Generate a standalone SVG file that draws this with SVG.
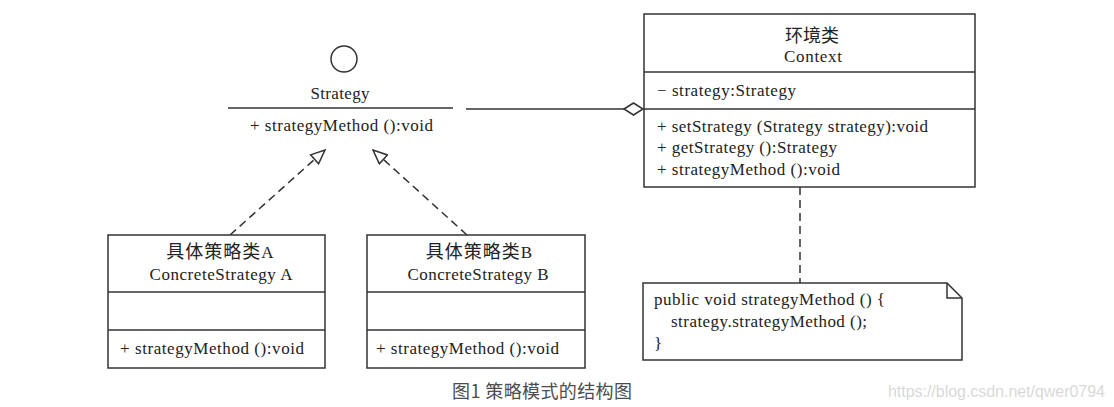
<svg xmlns="http://www.w3.org/2000/svg" width="1114" height="407" viewBox="0 0 1114 407">
<defs>
<style>
.t{font-family:"Liberation Serif","Noto Sans CJK SC",serif;font-size:17px;fill:#222}
.k{font-size:18px;letter-spacing:1px}
.c{text-anchor:middle}
.b{fill:#fff;stroke:#333;stroke-width:1.5}
.l{stroke:#333;stroke-width:1.5;fill:none}
.d{stroke:#333;stroke-width:1.5;fill:none;stroke-dasharray:8 5}
</style>
<marker id="tri" viewBox="0 0 16 14" refX="15" refY="7" markerWidth="16" markerHeight="14" markerUnits="userSpaceOnUse" orient="auto">
<path d="M1,1 L15,7 L1,13 Z" fill="#fff" stroke="#333" stroke-width="1.5"/>
</marker>
</defs>
<rect width="1114" height="407" fill="#fff"/>
<g id="connectors">
<line class="d" x1="230" y1="235" x2="325" y2="150" marker-end="url(#tri)"/>
<line class="d" x1="467" y1="235" x2="373" y2="150" marker-end="url(#tri)"/>
<line class="l" x1="466" y1="109" x2="624" y2="109"/>
<path d="M624,109 L633.5,103 L643,109 L633.5,115 Z" fill="#fff" stroke="#333" stroke-width="1.5"/>
<line class="d" x1="800" y1="187" x2="800" y2="283"/>
</g>
<g id="strategy">
<circle cx="344" cy="59" r="13" class="b"/>
<text class="t c" x="340" y="99" textLength="59">Strategy</text>
<line class="l" x1="228" y1="108" x2="453" y2="108"/>
<text class="t" x="250" y="131" textLength="183">+ strategyMethod ():void</text>
</g>
<g id="context">
<rect class="b" x="644" y="14" width="331" height="173"/>
<line class="l" x1="644" y1="72" x2="975" y2="72"/>
<line class="l" x1="644" y1="109" x2="975" y2="109"/>
<text class="t c" x="812" y="42" style="font-size:18px">环境类</text>
<text class="t c" x="813" y="62" textLength="58">Context</text>
<text class="t" x="657" y="96" textLength="139">− strategy:Strategy</text>
<text class="t" x="657" y="132" textLength="271">+ setStrategy (Strategy strategy):void</text>
<text class="t" x="657" y="153" textLength="180">+ getStrategy ():Strategy</text>
<text class="t" x="657" y="175" textLength="183">+ strategyMethod ():void</text>
</g>
<g id="concreteA">
<rect class="b" x="108" y="235" width="217" height="133"/>
<line class="l" x1="108" y1="292" x2="325" y2="292"/>
<line class="l" x1="108" y1="330" x2="325" y2="330"/>
<text class="t c" x="220" y="258"><tspan class="k">具体策略类</tspan>A</text>
<text class="t c" x="221" y="280" textLength="143">ConcreteStrategy  A</text>
<text class="t" x="120" y="354" textLength="184">+ strategyMethod ():void</text>
</g>
<g id="concreteB">
<rect class="b" x="367" y="235" width="218" height="133"/>
<line class="l" x1="367" y1="292" x2="585" y2="292"/>
<line class="l" x1="367" y1="330" x2="585" y2="330"/>
<text class="t c" x="479" y="258"><tspan class="k">具体策略类</tspan>B</text>
<text class="t c" x="478" y="280" textLength="141">ConcreteStrategy  B</text>
<text class="t" x="376" y="354" textLength="183">+ strategyMethod ():void</text>
</g>
<g id="note">
<path class="b" d="M643,283 L947,283 L962,298 L962,360 L643,360 Z"/>
<path class="l" d="M947,283 L947,298 L962,298"/>
<text class="t" x="654" y="305" textLength="231">public void strategyMethod () {</text>
<text class="t" x="671" y="327" textLength="196">strategy.strategyMethod ();</text>
<text class="t" x="654" y="349">}</text>
</g>
<text x="452" y="398" textLength="180" style="font-family:'Noto Sans CJK SC','Liberation Sans',sans-serif;font-size:18px;fill:#4d4d4d">图1 策略模式的结构图</text>
<text x="888" y="397" textLength="217" style="font-family:'Liberation Sans',sans-serif;font-size:16px;fill:#d9d9d9">https://blog.csdn.net/qwer0794</text>
</svg>
